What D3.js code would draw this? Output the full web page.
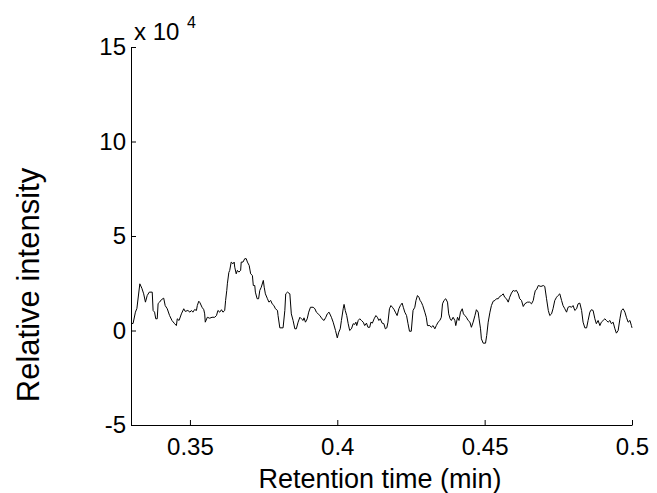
<!DOCTYPE html>
<html>
<head>
<meta charset="utf-8">
<script src="https://cdn.jsdelivr.net/npm/d3@7"></script>
<style>
  html, body { margin: 0; padding: 0; background: #fff; }
  svg { display: block; }
  text { font-family: Arial, "Liberation Sans", sans-serif; fill: #000; }
</style>
</head>
<body>
<svg id="chart" width="657" height="493"></svg>
<script>
// Retention time (min)
const retentionTime = [
0.3300,0.3307,0.3315,0.3320,0.3330,0.3337,0.3343,0.3349,0.3355,0.3362,
0.3372,0.3375,0.3380,0.3384,0.3389,0.3392,0.3397,0.3403,0.3411,0.3416,
0.3423,0.3431,0.3439,0.3448,0.3454,0.3457,0.3463,0.3471,0.3479,0.3484,
0.3493,0.3500,0.3505,0.3510,0.3516,0.3522,0.3525,0.3530,0.3534,0.3541,
0.3547,0.3550,0.3552,0.3559,0.3567,0.3575,0.3584,0.3590,0.3595,0.3601,
0.3607,0.3612,0.3618,0.3621,0.3625,0.3627,0.3632,0.3635,0.3640,0.3646,
0.3650,0.3652,0.3657,0.3661,0.3666,0.3672,0.3674,0.3680,0.3686,0.3691,
0.3695,0.3701,0.3706,0.3712,0.3715,0.3720,0.3722,0.3728,0.3733,0.3737,
0.3742,0.3749,0.3752,0.3756,0.3763,0.3768,0.3774,0.3779,0.3785,0.3790,
0.3797,0.3799,0.3805,0.3816,0.3822,0.3825,0.3831,0.3839,0.3844,0.3850,
0.3856,0.3861,0.3867,0.3873,0.3878,0.3884,0.3887,0.3892,0.3898,0.3903,
0.3909,0.3918,0.3924,0.3929,0.3935,0.3941,0.3948,0.3955,0.3961,0.3966,
0.3972,0.3980,0.3986,0.3994,0.4000,0.4005,0.4010,0.4014,0.4020,0.4023,
0.4027,0.4032,0.4037,0.4042,0.4048,0.4054,0.4059,0.4063,0.4066,0.4071,
0.4076,0.4082,0.4088,0.4093,0.4099,0.4104,0.4110,0.4114,0.4119,0.4125,
0.4131,0.4136,0.4141,0.4146,0.4152,0.4158,0.4163,0.4168,0.4172,0.4177,
0.4182,0.4187,0.4193,0.4197,0.4203,0.4209,0.4214,0.4220,0.4224,0.4229,
0.4235,0.4240,0.4245,0.4251,0.4257,0.4263,0.4267,0.4272,0.4277,0.4281,
0.4285,0.4290,0.4297,0.4302,0.4306,0.4314,0.4319,0.4325,0.4331,0.4336,
0.4342,0.4348,0.4353,0.4357,0.4362,0.4368,0.4374,0.4378,0.4383,0.4387,
0.4393,0.4399,0.4402,0.4408,0.4413,0.4418,0.4424,0.4428,0.4433,0.4438,
0.4444,0.4450,0.4455,0.4461,0.4467,0.4472,0.4478,0.4481,0.4486,0.4489,
0.4495,0.4503,0.4507,0.4512,0.4518,0.4523,0.4529,0.4535,0.4540,0.4546,
0.4551,0.4557,0.4563,0.4568,0.4574,0.4580,0.4585,0.4591,0.4597,0.4602,
0.4608,0.4614,0.4619,0.4625,0.4631,0.4636,0.4645,0.4653,0.4659,0.4665,
0.4668,0.4672,0.4676,0.4682,0.4691,0.4699,0.4704,0.4710,0.4716,0.4721,
0.4727,0.4732,0.4738,0.4744,0.4749,0.4755,0.4761,0.4766,0.4772,0.4778,
0.4783,0.4789,0.4795,0.4800,0.4806,0.4812,0.4817,0.4823,0.4829,0.4834,
0.4840,0.4846,0.4851,0.4857,0.4862,0.4868,0.4874,0.4879,0.4885,0.4891,
0.4896,0.4902,0.4908,0.4913,0.4919,0.4925,0.4930,0.4936,0.4942,0.4947,
0.4953,0.4959,0.4964,0.4970,0.4976,0.4981,0.4987,0.4993,0.4998,0.5000
];

// Relative intensity, in units of 10^4
const intensityE4 = [
0.37,0.37,0.97,1.17,2.47,2.23,1.94,1.50,1.85,2.03,
2.03,1.06,0.97,0.62,0.62,1.43,1.50,1.63,1.71,1.32,
1.15,0.79,0.53,0.36,0.26,0.62,0.53,0.88,1.15,1.01,
1.06,0.97,1.06,0.97,1.11,1.06,1.32,1.55,1.47,1.23,
1.10,0.88,0.44,0.70,0.65,0.70,0.70,0.79,1.06,0.97,
1.10,0.97,1.06,1.59,2.12,2.47,3.07,3.18,3.62,3.53,
3.62,3.35,3.00,3.18,3.09,3.18,3.62,3.62,3.80,3.80,
3.62,3.44,3.00,2.91,2.38,2.38,2.03,1.68,1.68,2.12,
2.29,2.65,2.29,1.94,1.68,1.50,1.59,1.41,1.32,1.15,
1.06,0.79,0.14,0.14,1.06,1.94,2.03,1.94,0.88,0.53,
0.09,0.09,0.44,0.70,0.62,0.53,0.67,0.44,0.62,0.97,
1.23,1.23,1.15,0.97,0.88,0.79,0.62,0.53,0.70,0.88,
0.97,0.70,0.44,0.00,-0.39,-0.09,0.09,0.53,1.15,1.38,
1.06,0.79,0.36,0.00,0.09,0.36,0.32,0.44,0.26,0.53,
0.62,0.53,0.44,0.26,0.39,0.17,0.17,0.44,0.39,0.62,
0.79,0.70,0.53,0.62,0.39,0.36,0.09,0.14,0.44,1.15,
1.32,1.23,1.10,0.97,0.79,1.15,1.32,1.45,1.23,0.97,
0.79,0.36,-0.04,-0.04,1.06,1.23,1.59,1.85,1.76,1.59,
1.50,1.32,0.97,0.70,0.26,0.26,0.17,0.26,0.09,0.26,
0.44,0.53,0.70,1.41,1.59,1.68,1.50,0.88,0.62,0.53,
0.70,0.53,0.26,0.70,0.53,0.97,1.15,0.88,0.79,0.70,
0.53,0.44,0.17,0.44,0.79,1.10,0.97,0.62,0.09,-0.44,
-0.67,-0.67,-0.26,0.44,0.97,1.32,1.55,1.59,1.68,1.68,
1.80,1.85,1.94,1.76,1.68,1.50,1.76,1.98,2.12,2.08,
2.12,1.94,1.68,1.59,1.27,1.41,1.50,1.50,1.41,1.59,
1.85,2.12,2.16,2.38,2.33,2.38,2.33,1.68,1.06,0.79,
0.88,1.15,1.59,1.76,1.85,1.94,1.59,1.32,1.15,0.97,
1.23,1.27,1.23,1.32,1.06,1.15,1.41,1.45,1.06,0.44,
0.14,0.14,0.53,0.97,1.10,1.06,0.62,0.36,0.53,0.26,
0.44,0.53,0.62,0.53,0.44,0.53,0.36,0.44,0.09,-0.14,
0.00,0.62,1.06,1.15,0.97,0.70,0.44,0.53,0.26,0.14
];

const xDomain = [0.33, 0.5];
const yDomain = [-5, 15];
const xTickValues = [0.35, 0.4, 0.45, 0.5];
const xTickLabels = ["0.35", "0.4", "0.45", "0.5"];
const yTickValues = [-5, 0, 5, 10, 15];
const yTickLabels = ["-5", "0", "5", "10", "15"];
const xTitle = "Retention time (min)";
const yTitle = "Relative intensity";
const exponentBase = "x 10";
const exponentPower = "4";

const svg = d3.select("#chart");
svg.append("rect").attr("width", 657).attr("height", 493).attr("fill", "#fff");

const plot = { left: 131, right: 632, top: 47, bottom: 425 };

const x = d3.scaleLinear().domain(xDomain).range([plot.left, plot.right]);
const y = d3.scaleLinear().domain(yDomain).range([plot.bottom, plot.top]);

// trace
const line = d3.line()
  .x((d, i) => x(retentionTime[i]))
  .y(d => y(d));

svg.append("path")
  .datum(intensityE4)
  .attr("fill", "none")
  .attr("stroke", "#000")
  .attr("stroke-width", 1)
  .attr("stroke-linejoin", "miter")
  .attr("d", line);

// axes with inward ticks
const xAxis = d3.axisBottom(x)
  .tickValues(xTickValues)
  .tickFormat((d, i) => xTickLabels[i])
  .tickSizeInner(-5)
  .tickSizeOuter(0)
  .tickPadding(13);

const yAxis = d3.axisLeft(y)
  .tickValues(yTickValues)
  .tickFormat((d, i) => yTickLabels[i])
  .tickSizeInner(-5)
  .tickSizeOuter(0)
  .tickPadding(5);

const gx = svg.append("g")
  .attr("transform", `translate(0,${plot.bottom})`)
  .call(xAxis);
const gy = svg.append("g")
  .attr("transform", `translate(${plot.left},0)`)
  .call(yAxis);

[gx, gy].forEach(g => {
  g.selectAll("path.domain").attr("stroke", "#000").attr("stroke-width", 1);
  g.selectAll(".tick line").attr("stroke", "#000").attr("stroke-width", 1);
  g.selectAll(".tick text")
    .attr("font-family", "Arial, 'Liberation Sans', sans-serif")
    .attr("font-size", 24)
    .attr("fill", "#000");
});

// exponent note at top of y axis
svg.append("text")
  .attr("x", 134)
  .attr("y", 40)
  .attr("font-size", 24)
  .text(exponentBase);
svg.append("text")
  .attr("x", 187)
  .attr("y", 28)
  .attr("font-size", 16)
  .text(exponentPower);

// axis titles
svg.append("text")
  .attr("x", 380)
  .attr("y", 488)
  .attr("text-anchor", "middle")
  .attr("font-size", 27)
  .text(xTitle);

svg.append("text")
  .attr("transform", "translate(39,285) rotate(-90)")
  .attr("text-anchor", "middle")
  .attr("font-size", 31)
  .text(yTitle);
</script>
</body>
</html>
